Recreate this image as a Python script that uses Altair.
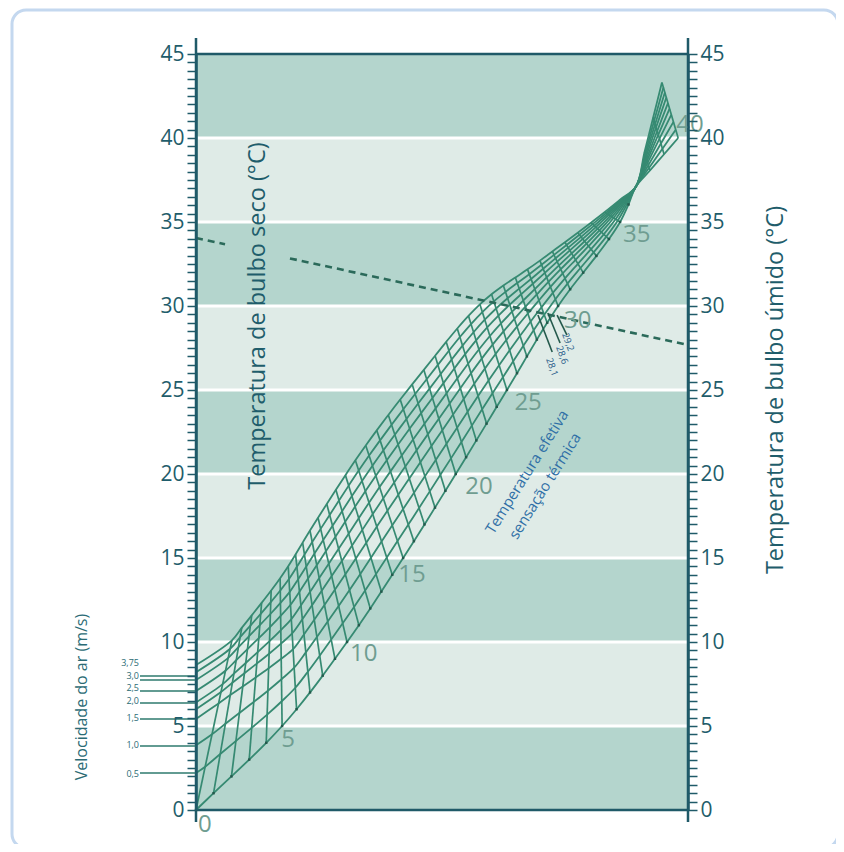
import numpy as np
import pandas as pd
import altair as alt

W, H = 492, 756

# ---------------- values ----------------
BAND_EDGES = [0, 5, 10, 15, 20, 25, 30, 35, 40, 45]
BAND_KIND = ["d", "l", "d", "l", "d", "l", "d", "l", "d"]

# effective-temperature knots; lower edge (0.1 m/s) and upper edge (max velocity)
ET_KNOTS = [0, 5, 10, 15, 20, 25, 30, 35, 37, 40]
LOWER_X = [0.0, 17.5, 30.7, 42.1, 52.8, 63.2, 73.6, 86.2, 89.4, 98.0]
LOWER_Y = [0.0, 5.0, 10.0, 15.0, 20.0, 25.0, 30.0, 35.0, 37.1, 40.0]
UPPER_X = [7.3, 17.1, 24.8, 34.5, 46.3, 57.7, 69.9, 83.1, 89.4, 94.7]
UPPER_Y = [10.1, 13.8, 17.4, 21.7, 26.2, 30.1, 32.7, 35.6, 37.1, 43.3]

# velocity curves: start on dry-bulb axis, relative position across the band
VEL_AXIS_Y = [0.0, 2.2, 3.85, 5.42, 6.0, 6.4, 7.08, 7.74, 8.2, 8.63]
VEL_FRAC_MID = [0.0, 0.15, 0.29, 0.42, 0.53, 0.63, 0.73, 0.82, 0.91, 1.0]

ET_LABELS = ["0", "5", "10", "15", "20", "25", "30", "35", "40"]
ET_LABEL_X = [1.8, 18.7, 34.1, 43.9, 57.5, 67.5, 77.6, 89.6, 100.4]
ET_LABEL_Y = [-0.9, 4.17, 9.29, 14.0, 19.23, 24.23, 29.1, 34.2, 40.77]

VEL_LABELS = ["0,5", "1,0", "1,5", "2,0", "2,5", "3,0", "3,75"]
VEL_LINE_Y = [2.2, 3.81, 5.42, 6.37, 7.08, 7.74, 7.98]
VEL_TEXT_Y = [2.14, 3.87, 5.48, 6.5, 7.26, 8.0, 8.75]

DASH_DB = 34.05   # dry bulb of the example line
DASH_WB = 27.68   # wet bulb of the example line
DASH_GAP = [5.9, 19.1]

READ_LABELS = ["29,2", "28,6", "28,1"]
READ_X1 = [73.4, 71.5, 69.5]
READ_Y1 = [29.46, 29.58, 29.46]
READ_X2 = [75.4, 74.0, 72.4]
READ_Y2 = [28.27, 27.8, 27.26]

AXIS_TICKS = [i * 0.5 for i in range(91)]

# ---------------- colours ----------------
DARK = "#b4d5cd"
LIGHT = "#dfebe7"
AXC = "#1f5a68"
LBC = "#1f5d6b"
MESH = "#368a72"
ETC = "#6f9d91"


def hermite(tk, vk, t):
    tk = np.asarray(tk, float)
    vk = np.asarray(vk, float)
    n = len(tk)
    sec = np.diff(vk) / np.diff(tk)
    m = np.zeros(n)
    m[0], m[-1] = sec[0], sec[-1]
    m[1:-1] = (sec[:-1] + sec[1:]) / 2
    out = []
    for tt in np.atleast_1d(t):
        i = int(min(max(np.searchsorted(tk, tt, side="right") - 1, 0), n - 2))
        h = tk[i + 1] - tk[i]
        s = (tt - tk[i]) / h
        h00 = 2 * s**3 - 3 * s**2 + 1
        h10 = s**3 - 2 * s**2 + s
        h01 = -2 * s**3 + 3 * s**2
        h11 = s**3 - s**2
        out.append(h00 * vk[i] + h10 * h * m[i] + h01 * vk[i + 1] + h11 * h * m[i + 1])
    return np.array(out)


def edge(xs, ys, T):
    kn = ET_KNOTS[:9]
    if T <= 37:
        return float(hermite(kn, xs[:9], T)[0]), float(hermite(kn, ys[:9], T)[0])
    return float(np.interp(T, ET_KNOTS[8:], xs[8:])), float(np.interp(T, ET_KNOTS[8:], ys[8:]))


ETS = list(range(0, 41))
LOW = {T: edge(LOWER_X, LOWER_Y, T) for T in ETS}
UPP = {T: edge(UPPER_X, UPPER_Y, T) for T in ETS}
axis_frac = [v / VEL_AXIS_Y[-1] for v in VEL_AXIS_Y]

vel_rows = []
for k in range(len(VEL_AXIS_Y)):
    order = 0
    if k > 0:
        vel_rows.append({"k": k, "o": order, "x": 0.0, "y": VEL_AXIS_Y[k]})
        order += 1
    for T in ETS:
        w = min(max(T / 6.0, 0.0), 1.0)
        f = (1 - w) * axis_frac[k] + w * VEL_FRAC_MID[k]
        lx, ly = LOW[T]
        ux, uy = UPP[T]
        vel_rows.append({"k": k, "o": order, "x": lx + f * (ux - lx), "y": ly + f * (uy - ly)})
        order += 1
vel_df = pd.DataFrame(vel_rows)

et_rows = []
for T in ETS:
    if T == 37:
        continue
    et_rows.append({"T": T, "o": 0, "x": LOW[T][0], "y": LOW[T][1]})
    et_rows.append({"T": T, "o": 1, "x": UPP[T][0], "y": UPP[T][1]})
et_df = pd.DataFrame(et_rows)
dots_df = pd.DataFrame({"x": [LOW[T][0] for T in ETS if T <= 36],
                        "y": [LOW[T][1] for T in ETS if T <= 36]})

bands_df = pd.DataFrame({"y": BAND_EDGES[:-1], "y2": BAND_EDGES[1:], "kind": BAND_KIND})
sep_df = pd.DataFrame({"y": BAND_EDGES[1:-1]})
frame_df = pd.DataFrame({"y": [BAND_EDGES[0], BAND_EDGES[-1]]})


def dash_y(x):
    return DASH_DB + (DASH_WB - DASH_DB) * x / 100.0


dash_df = pd.DataFrame({
    "seg": [0, 0, 1, 1],
    "x": [0.0, DASH_GAP[0], DASH_GAP[1], 100.0],
    "y": [dash_y(0.0), dash_y(DASH_GAP[0]), dash_y(DASH_GAP[1]), dash_y(100.0)],
})
read_df = pd.DataFrame({"x": READ_X1, "y": READ_Y1, "x2": READ_X2, "y2": READ_Y2})
etlab_df = pd.DataFrame({"t": ET_LABELS, "x": ET_LABEL_X, "y": ET_LABEL_Y})
vlab_df = pd.DataFrame({"t": VEL_LABELS, "yl": VEL_LINE_Y, "yt": VEL_TEXT_Y})

XS = alt.Scale(domain=[0, 100], nice=False)
YS = alt.Scale(domain=[0, 45], nice=False)


def X(f="x"):
    return alt.X(f"{f}:Q", scale=XS, axis=None)


def Y(f="y", axis=None):
    return alt.Y(f"{f}:Q", scale=YS, axis=axis)


def make_axis(orient):
    return alt.Axis(
        orient=orient, values=AXIS_TICKS,
        labelExpr="datum.value % 5 == 0 ? format(datum.value, 'd') : ''",
        labelFont="Open Sans", labelFontSize=21, labelColor=LBC,
        labelPadding=3, labelOverlap=False, labelFlush=False,
        tickSize=9, tickWidth=1.5, tickColor=AXC,
        domainColor=AXC, domainWidth=2.5, grid=False, title=None, zindex=2,
    )


bands = alt.Chart(bands_df).mark_rect().encode(
    x=alt.value(0), x2=alt.value(W),
    y=Y("y", make_axis("left")), y2="y2:Q",
    color=alt.Color("kind:N", scale=alt.Scale(domain=["d", "l"], range=[DARK, LIGHT]), legend=None),
)
seps = alt.Chart(sep_df).mark_rule(color="white", strokeWidth=3).encode(
    x=alt.value(0), x2=alt.value(W), y=Y("y", make_axis("right")),
)
frame = alt.Chart(frame_df).mark_rule(color=AXC, strokeWidth=2.5).encode(
    x=alt.value(0), x2=alt.value(W), y=Y("y"),
)
axis_ext = alt.Chart(pd.DataFrame({"a": [0, W]})).mark_rule(color=AXC, strokeWidth=2.5).encode(
    x=alt.X("a:Q", scale=alt.Scale(domain=[0, W], range=[0, W]), axis=None),
    y=alt.value(-16), y2=alt.value(H + 12),
)
et_lines = alt.Chart(et_df).mark_line(color=MESH, strokeWidth=1.7).encode(
    x=X(), y=Y(), detail="T:N", order="o:Q",
)
vel_lines = alt.Chart(vel_df).mark_line(color=MESH, strokeWidth=1.8, interpolate="catmull-rom").encode(
    x=X(), y=Y(), detail="k:N", order="o:Q",
)
dots = alt.Chart(dots_df).mark_point(shape="square", filled=True, size=6, color="#24594c", opacity=1).encode(
    x=X(), y=Y(),
)
dash = alt.Chart(dash_df).mark_line(color="#2b6a5a", strokeWidth=2.6, strokeDash=[7, 5]).encode(
    x=X(), y=Y(), detail="seg:N",
)
reads = alt.Chart(read_df).mark_rule(color="#24594c", strokeWidth=1.6).encode(
    x=X(), y=Y(), x2="x2:Q", y2="y2:Q",
)
etlabs = alt.Chart(etlab_df).mark_text(font="Open Sans", fontSize=24, color=ETC, align="center", baseline="middle").encode(
    x=X(), y=Y(), text="t:N",
)
vlines = alt.Chart(vlab_df).mark_rule(color="#2e7a6e", strokeWidth=1.5).encode(
    x=alt.value(-56), x2=alt.value(0), y=Y("yl"),
)
vtexts = alt.Chart(vlab_df).mark_text(font="Open Sans", fontSize=9, color="#2b6b75", align="right", baseline="middle").encode(
    x=alt.value(-57), y=Y("yt"), text="t:N",
)

one = pd.DataFrame({"a": [0]})


def label(txt, px, py, size, color, angle=0, weight="normal"):
    return alt.Chart(one).mark_text(
        text=txt, font="Open Sans", fontSize=size, color=color, angle=angle,
        align="center", baseline="middle", fontWeight=weight,
    ).encode(x=alt.value(px), y=alt.value(py))


texts = [
    label("Temperatura de bulbo seco (°C)", 62, 262, 23.5, LBC, 270),
    label("Temperatura de bulbo úmido (°C)", 580, 336, 23.5, LBC, 270),
    label("Velocidade do ar (m/s)", -114, 643, 16, "#2b6b75", 270),
    label("Temperatura efetiva", 331, 418, 15, "#2f6fa6", 302),
    label("sensação térmica", 349, 432, 15, "#2f6fa6", 302),
    label(READ_LABELS[0], 372, 288, 9.5, "#2a5d8a", 70),
    label(READ_LABELS[1], 366, 301, 9.5, "#2a5d8a", 70),
    label(READ_LABELS[2], 356, 313, 9.5, "#2a5d8a", 70),
]

border = alt.Chart(one).mark_rect(
    fillOpacity=0, stroke="#c4d8ef", strokeWidth=3, cornerRadius=14,
).encode(x=alt.value(-184), x2=alt.value(642), y=alt.value(-44), y2=alt.value(794))

chart = alt.layer(
    border, bands, seps, frame, axis_ext, et_lines, vel_lines, dots, dash, reads,
    vlines, vtexts, etlabs, *texts,
).resolve_scale(y="independent", x="independent").resolve_axis(y="independent").properties(
    width=W, height=H,
    padding={"left": 188, "top": 46, "right": 148, "bottom": 34},
    autosize=alt.AutoSizeParams(type="none"),
    background="white",
).configure_view(stroke=None)

chart.save("out.html", embed_options={"renderer": "svg", "actions": False})
